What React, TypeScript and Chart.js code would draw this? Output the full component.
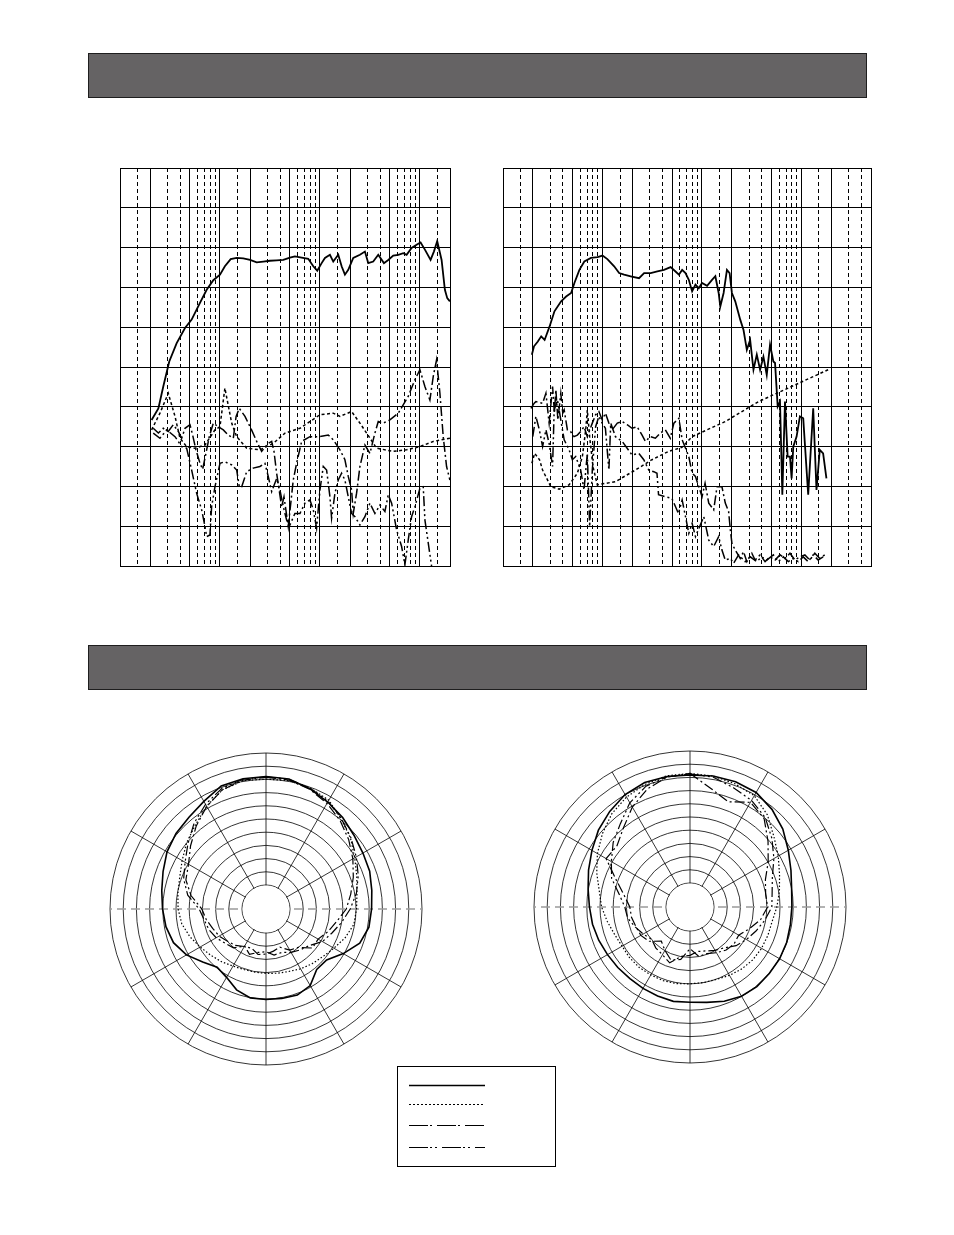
import React, { useEffect, useRef } from "react";
import { Chart, registerables } from "chart.js";

Chart.register(...registerables);

// ---------------- Frequency response: left chart (10 Hz – 20 kHz) ----------------
const L_TICKS = [10, 15, 20, 30, 40, 50, 60, 70, 80, 90, 100, 150, 200, 300, 400, 500, 600, 700, 800, 900, 1000, 1500, 2000, 3000, 4000, 5000, 6000, 7000, 8000, 9000, 10000, 15000, 20000];

const L_SOLID_F = [20.7, 24.2, 27.1, 31.1, 36.9, 44.7, 52.1, 63.1, 73.6, 85.8, 100, 112, 128, 147, 171, 200, 233, 271, 316, 369, 430, 501, 562, 656, 764, 858, 940, 1040, 1122, 1259, 1359, 1525, 1648, 1778, 1920, 2154, 2512, 2818, 3042, 3414, 3831, 4365, 4823, 5412, 6072, 6813, 7362, 8254, 9261, 10160, 11220, 12790, 13800, 14900, 16480, 17780, 18770, 19950];
const L_SOLID_V = [36.7, 39.6, 45.1, 51.4, 56.0, 59.8, 61.9, 66.1, 69.4, 71.8, 73.2, 75.3, 77.1, 77.4, 77.3, 76.9, 76.3, 76.5, 76.7, 76.8, 76.9, 77.5, 77.8, 77.5, 77.2, 75.3, 74.2, 76.1, 77.4, 78.2, 76.5, 78.2, 75.3, 73.2, 74.4, 77.4, 78.2, 79.0, 76.1, 76.5, 78.2, 76.1, 76.9, 78.0, 78.2, 78.6, 78.2, 79.9, 80.7, 81.3, 79.5, 76.9, 79.0, 81.6, 76.9, 69.4, 67.3, 66.5];

const L_DOT_F = [20.7, 25.1, 30.4, 35.5, 39.8, 46.4, 56.2, 70.8, 89.1, 100, 112, 131, 147, 185, 251, 341, 447, 631, 1000, 1359, 1585, 2074, 2512, 2929, 3688, 5412, 7356, 10000, 13590, 19950];
const L_DOT_V = [34.2, 38.4, 43.4, 37.6, 32.1, 30.0, 29.6, 30.4, 34.2, 35.0, 44.7, 35.9, 32.5, 29.6, 29.2, 30.8, 33.4, 34.6, 38.0, 38.4, 37.6, 38.8, 35.9, 33.4, 29.6, 28.8, 29.2, 30.0, 31.3, 32.1];

const L_DD_F = [21.5, 24.2, 27.1, 30.4, 34.1, 38.3, 41.4, 44.7, 50.1, 53.3, 57.5, 63.1, 67.1, 72.4, 78.2, 85.8, 96.2, 108, 121, 136, 145, 156, 178, 207, 233, 261, 304, 329, 347, 369, 414, 437, 482, 541, 584, 656, 794, 1000, 1212, 1359, 1585, 1778, 1920, 2074, 2154, 2326, 2512, 2818, 3162, 3548, 3831, 4299, 5012, 6072, 7640, 8913, 10000, 11220, 12590, 13590, 14680, 15850, 17110, 18480, 19950];
const L_DD_V = [34.6, 33.4, 34.6, 33.8, 35.5, 33.8, 32.1, 34.6, 35.5, 32.9, 29.2, 25.8, 24.3, 28.3, 32.5, 35.9, 35.0, 34.2, 32.9, 32.1, 37.6, 39.6, 37.6, 34.2, 31.3, 28.8, 30.8, 31.3, 28.8, 23.3, 14.9, 17.4, 9.9, 21.6, 25.8, 31.3, 32.5, 32.5, 32.9, 31.7, 29.2, 26.7, 22.5, 19.1, 13.2, 18.3, 25.0, 30.4, 28.3, 33.4, 36.3, 35.9, 36.7, 38.4, 42.6, 46.8, 49.3, 45.1, 41.7, 47.6, 51.8, 43.4, 32.5, 25.0, 21.6];

const L_DDD_F = [21.5, 25.1, 29.3, 35.5, 41.4, 46.4, 52.1, 58.4, 65.6, 70.8, 73.6, 79.4, 82.5, 89.1, 100, 112, 131, 147, 156, 165, 185, 215, 251, 282, 304, 329, 369, 398, 430, 464, 501, 562, 631, 708, 794, 858, 926, 1000, 1080, 1166, 1259, 1308, 1413, 1525, 1647, 1778, 1920, 2074, 2239, 2512, 2818, 3162, 3548, 3981, 4467, 4823, 5212, 5843, 6561, 7079, 7640, 8254, 8913, 10000, 10800, 11220, 13080, 13800];
const L_DDD_V = [33.4, 32.1, 34.2, 32.5, 30.0, 29.6, 24.1, 18.3, 14.1, 9.9, 7.4, 7.8, 14.9, 19.9, 25.8, 26.2, 25.4, 24.1, 19.9, 19.9, 23.7, 24.6, 25.0, 25.8, 22.5, 18.7, 22.0, 19.1, 14.9, 11.6, 10.3, 13.2, 13.2, 15.8, 16.6, 14.1, 9.5, 19.1, 25.0, 24.1, 17.4, 12.0, 18.3, 21.6, 23.3, 21.6, 17.4, 13.2, 12.4, 10.3, 12.4, 15.8, 13.2, 15.3, 13.7, 17.9, 15.8, 9.1, 4.9, 0.3, 6.5, 12.4, 14.9, 19.5, 19.9, 11.6, 0, -4];

// ---------------- Frequency response: right chart (10 Hz – 50 kHz) ----------------
const R_TICKS = [10, 15, 20, 30, 40, 50, 60, 70, 80, 90, 100, 150, 200, 300, 400, 500, 600, 700, 800, 900, 1000, 1500, 2000, 3000, 4000, 5000, 6000, 7000, 8000, 9000, 10000, 15000, 20000, 30000, 40000, 50000];

const R_SOLID_F = [19.5, 20.5, 22.4, 24.2, 26.2, 29.4, 32.9, 38.4, 43.1, 48.4, 52.2, 58.6, 65.7, 76.6, 89.3, 100, 112, 131, 147, 165, 192, 233, 262, 305, 356, 415, 484, 542, 586, 632, 683, 737, 796, 860, 928, 1002, 1125, 1262, 1363, 1471, 1528, 1650, 1782, 1896, 2000, 2160, 2424, 2616, 2825, 3050, 3293, 3556, 3839, 4147, 4478, 4834, 5220, 5425, 5768, 6086, 6422, 6830, 7262, 7663, 7962, 8272, 8934, 9646, 10416, 11686, 13122, 14158, 15284, 16508, 17826];
const R_SOLID_V = [53.1, 55.2, 56.4, 57.7, 56.8, 60.2, 64.0, 66.5, 67.7, 68.6, 71.1, 74.4, 76.5, 77.4, 77.6, 78.0, 77.1, 75.3, 73.6, 73.2, 72.8, 72.3, 73.6, 73.6, 74.0, 74.4, 75.1, 74.0, 73.2, 74.4, 73.6, 71.9, 69.0, 70.7, 69.8, 71.1, 70.4, 71.9, 72.8, 68.6, 65.2, 68.6, 74.4, 73.6, 68.6, 66.5, 61.9, 59.3, 54.3, 56.8, 49.3, 53.1, 49.3, 52.6, 48.0, 55.6, 51.4, 51.0, 40.1, 41.3, 17.9, 41.3, 27.5, 27.5, 22.0, 30.0, 32.5, 37.6, 37.1, 17.9, 39.6, 19.1, 29.2, 28.3, 22.0];

const R_DOT_F = [19.5, 20.8, 23.3, 25.0, 30.3, 36.7, 46.2, 55.9, 62.8, 67.8, 70.4, 74.3, 80.2, 88.7, 135, 214, 314, 462, 628, 796, 1715, 3696, 7962, 18520];
const R_DOT_V = [25.8, 28.3, 26.7, 24.1, 19.9, 19.3, 20.4, 23.3, 27.5, 34.2, 39.2, 32.5, 25.0, 20.4, 21.2, 24.1, 26.7, 28.8, 29.8, 32.5, 36.3, 41.3, 45.1, 49.3];

const R_DD_F = [19.1, 20.6, 21.4, 25.0, 27.0, 29.1, 31.5, 32.9, 34.0, 35.6, 38.1, 39.9, 41.2, 44.4, 47.8, 51.8, 55.9, 60.4, 65.2, 70.4, 79.0, 85.3, 92.0, 99.4, 107, 116, 125, 141, 158, 177, 198, 223, 250, 270, 302, 340, 381, 428, 480, 522, 564, 586, 632, 737, 796, 860, 1002, 1074, 1170, 1312, 1416, 1588, 1715, 1852, 1928, 2000, 2160, 2424, 2616, 2825, 3170, 3422, 3839, 4308, 4834, 5425, 6086, 6830, 7663, 8599, 9646, 10823, 12144, 13626, 15284, 17154];
const R_DD_V = [39.6, 40.9, 41.3, 40.9, 43.4, 35.9, 45.1, 38.4, 44.3, 36.7, 43.4, 38.4, 39.2, 34.2, 33.8, 32.5, 32.9, 33.8, 35.0, 32.5, 35.9, 38.0, 38.8, 36.7, 38.4, 35.9, 34.2, 35.9, 36.3, 35.5, 34.6, 35.0, 32.9, 31.3, 32.5, 32.1, 33.4, 34.2, 32.1, 35.9, 36.7, 37.1, 31.7, 27.5, 23.3, 22.5, 17.4, 20.8, 15.8, 14.1, 19.9, 19.9, 15.8, 13.7, 9.1, 5.7, 4.0, 1.9, 3.6, 1.1, 3.2, 1.5, 2.8, 1.1, 2.3, 1.5, 2.8, 1.9, 3.2, 1.5, 2.3, 2.8, 1.5, 3.2, 1.9, 2.8];

const R_DDD_F = [19.9, 21.4, 23.2, 25.0, 27.0, 29.1, 31.5, 32.7, 35.3, 38.1, 41.2, 46.2, 49.8, 53.8, 60.4, 65.2, 70.4, 74.3, 79.0, 85.3, 92.0, 99.4, 107, 116, 121, 135, 158, 177, 198, 232, 260, 292, 328, 353, 366, 428, 498, 580, 632, 683, 737, 796, 860, 1043, 1170, 1312, 1471, 1588, 1715, 1928, 2080, 2332, 2718, 3050, 3556, 3990, 4478, 5220, 5862, 6572, 7376, 8272, 9283, 10416, 11686, 13122, 14712, 16508];
const R_DDD_V = [32.5, 37.6, 34.2, 30.0, 34.2, 30.8, 25.0, 39.2, 41.7, 36.7, 31.7, 29.2, 26.7, 27.5, 24.1, 19.1, 28.3, 9.9, 24.1, 35.0, 37.6, 35.9, 34.6, 24.1, 35.9, 32.5, 31.3, 29.6, 27.9, 28.3, 26.7, 24.1, 23.7, 23.3, 17.9, 17.4, 17.0, 13.2, 16.6, 12.4, 8.2, 10.7, 7.4, 12.4, 6.5, 4.9, 7.4, 4.0, 1.5, 1.9, 0.7, 2.8, 1.1, 2.3, 1.1, 2.3, 1.5, 2.8, 1.1, 2.3, 1.1, 1.9, 1.1, 2.3, 1.1, 2.8, 1.5, 2.3];

// ---------------- Polar patterns (level re. outer ring, dB; angle clockwise from 0°) ----------------
const ANGLES = Array.from({ length: 36 }, (_, i) => `${i * 10}°`);
const RING_TICKS = [-50, -45, -40, -35, -30, -25, -20, -15, -10, -5, 0];
const POLAR_MIN = -59.1;

const PL_SOLID = [-8.9, -9.1, -10.6, -12.3, -13.9, -15.6, -16.7, -17.3, -18.4, -19.1, -19.5, -21.3, -25.3, -29.1, -29.2, -25.6, -24.4, -24.7, -24.8, -24.9, -26.5, -29.2, -30.3, -27.8, -24.3, -21.8, -20.6, -19.9, -19.0, -17.6, -15.8, -14.6, -13.7, -12.0, -9.5, -9.0];
const PL_DOT = [-9.9, -9.7, -10.3, -11.5, -14.7, -17.3, -20.3, -22.5, -24.1, -24.8, -25.3, -27.2, -29.4, -31.0, -32.0, -32.9, -33.9, -34.4, -34.7, -34.8, -34.7, -34.1, -33.0, -31.8, -30.3, -28.4, -26.7, -25.8, -25.2, -24.3, -22.4, -19.9, -17.5, -14.1, -11.0, -9.7];
const PL_DD = [-9.2, -9.5, -10.8, -12.9, -15.4, -18.2, -21.1, -23.9, -26.5, -28.7, -31.9, -34.1, -36.3, -36.1, -40.1, -41.1, -43.7, -42.9, -42.0, -41.6, -43.3, -42.7, -41.1, -40.1, -38.6, -37.6, -36.1, -34.8, -30.3, -26.8, -25.2, -21.8, -18.0, -14.2, -11.0, -9.5];
const PL_DDD = [-9.0, -9.2, -10.4, -12.0, -14.6, -17.1, -19.6, -21.9, -24.3, -27.2, -30.0, -32.5, -34.4, -37.6, -38.9, -40.1, -41.6, -41.4, -42.9, -42.4, -40.8, -42.9, -39.9, -38.9, -37.3, -36.1, -35.3, -33.8, -29.0, -25.9, -23.7, -20.5, -16.7, -13.3, -10.4, -9.2];

const PR_SOLID = [-9.1, -8.7, -8.6, -9.0, -10.8, -13.2, -16.1, -18.4, -20.0, -20.5, -20.5, -20.1, -19.9, -19.9, -19.7, -20.1, -21.1, -22.4, -23.0, -22.8, -23.2, -23.5, -23.7, -23.4, -23.0, -22.3, -21.6, -21.0, -19.9, -18.2, -16.2, -13.8, -11.8, -9.9, -8.9, -8.9];
const PR_DOT = [-8.5, -8.7, -9.4, -10.4, -13.5, -17.6, -20.5, -23.0, -24.7, -26.2, -27.5, -27.7, -27.8, -28.0, -28.5, -29.2, -29.9, -30.0, -30.0, -29.6, -29.4, -29.4, -29.2, -29.2, -29.4, -28.7, -27.3, -25.6, -24.2, -21.5, -18.6, -15.8, -13.0, -11.0, -9.6, -8.6];
const PR_DD = [-8.5, -13.5, -16.7, -13.3, -15.4, -20.5, -24.9, -28.7, -30.0, -29.7, -31.9, -35.1, -37.8, -37.3, -37.8, -39.1, -40.3, -40.1, -43.3, -38.9, -37.8, -40.1, -42.2, -38.9, -37.6, -37.3, -36.6, -36.3, -33.8, -29.4, -22.4, -23.0, -19.9, -15.4, -11.6, -9.1];
const PR_DDD = [-8.7, -9.1, -11.0, -12.5, -14.8, -18.6, -22.4, -25.9, -27.5, -28.1, -30.3, -32.5, -34.4, -36.3, -38.9, -40.1, -41.4, -42.0, -40.8, -40.1, -36.6, -38.2, -38.9, -40.1, -38.6, -37.0, -35.1, -34.4, -31.9, -27.5, -24.7, -21.1, -18.0, -13.5, -10.4, -9.0];

// ---------------- Styles ----------------
const LINE_STYLES = {
  solid: { borderDash: [] as number[], borderWidth: 1.8 },
  dotted: { borderDash: [3, 2.5], borderWidth: 1.5 },
  dashDot: { borderDash: [10, 3, 2, 3], borderWidth: 1.5 },
  dashDotDot: { borderDash: [10, 3, 2, 3, 2, 3], borderWidth: 1.5 },
};

function isMajor(v: number) {
  const s = String(v);
  return (s[0] === "1" || s[0] === "2" || s[0] === "5") && /^0*$/.test(s.slice(1));
}

function zip(f: number[], v: number[]) {
  return f.map((x, i) => ({ x, y: v[i] }));
}

type Series = { f: number[]; v: number[]; style: keyof typeof LINE_STYLES };

function FreqChart(props: { left: number; top: number; width: number; height: number; xMax: number; ticks: number[]; series: Series[] }) {
  const ref = useRef<HTMLCanvasElement>(null);
  useEffect(() => {
    const { ticks, xMax, series } = props;
    const majors = ticks.filter(isMajor);
    const minors = ticks.filter((t) => !isMajor(t));
    const chart = new Chart(ref.current!, {
      type: "line",
      data: {
        datasets: series.map((s) => ({
          data: zip(s.f, s.v),
          xAxisID: "x",
          borderColor: "#000",
          backgroundColor: "#000",
          borderWidth: LINE_STYLES[s.style].borderWidth,
          borderDash: LINE_STYLES[s.style].borderDash,
          pointRadius: 0,
          tension: 0,
          fill: false,
        })),
      },
      options: {
        animation: false,
        responsive: false,
        events: [],
        layout: { padding: 3 },
        plugins: { legend: { display: false }, tooltip: { enabled: false } },
        scales: {
          xMinor: {
            type: "logarithmic",
            position: "bottom",
            min: 10,
            max: xMax,
            afterBuildTicks: (sc: any) => {
              sc.ticks = minors.map((value) => ({ value }));
            },
            ticks: { display: false },
            grid: { color: "#000", lineWidth: 1, drawTicks: false, borderDash: [4, 3] },
            border: { display: false, dash: [4, 3] },
          },
          x: {
            type: "logarithmic",
            position: "bottom",
            min: 10,
            max: xMax,
            afterBuildTicks: (sc: any) => {
              sc.ticks = majors.map((value) => ({ value }));
            },
            ticks: { display: false },
            grid: { color: "#000", lineWidth: 1, drawTicks: false },
            border: { display: true, color: "#000", width: 1 },
          },
          y: {
            type: "linear",
            min: 0,
            max: 100,
            ticks: { display: false, stepSize: 10 },
            grid: { color: "#000", lineWidth: 1, drawTicks: false },
            border: { display: true, color: "#000", width: 1 },
          },
        },
      } as any,
    });
    return () => chart.destroy();
  }, []);
  return (
    <canvas
      ref={ref}
      width={props.width}
      height={props.height}
      style={{ position: "absolute", left: props.left, top: props.top, width: props.width, height: props.height }}
    />
  );
}

const innerDisc = {
  id: "innerDisc",
  beforeDatasetsDraw(chart: any) {
    const s = chart.scales.r;
    const ctx = chart.ctx;
    const rad = s.getDistanceFromCenterForValue(RING_TICKS[0]);
    ctx.save();
    ctx.beginPath();
    ctx.arc(s.xCenter, s.yCenter, rad - 0.6, 0, Math.PI * 2);
    ctx.fillStyle = "#fff";
    ctx.fill();
    ctx.restore();
  },
};

type PolarSeries = { v: number[]; style: keyof typeof LINE_STYLES };

function PolarChart(props: { left: number; top: number; size: number; series: PolarSeries[] }) {
  const ref = useRef<HTMLCanvasElement>(null);
  useEffect(() => {
    const chart = new Chart(ref.current!, {
      type: "radar",
      data: {
        labels: ANGLES,
        datasets: props.series.map((s) => ({
          data: s.v,
          borderColor: "#000",
          backgroundColor: "transparent",
          borderWidth: s.style === "solid" ? 1.6 : 1.2,
          borderDash: s.style === "dotted" ? [1.5, 2] : LINE_STYLES[s.style].borderDash,
          pointRadius: 0,
          tension: 0,
          fill: false,
        })),
      },
      options: {
        animation: false,
        responsive: false,
        events: [],
        layout: { padding: 4 },
        plugins: { legend: { display: false }, tooltip: { enabled: false } },
        scales: {
          r: {
            min: POLAR_MIN,
            max: 0,
            afterBuildTicks: (sc: any) => {
              sc.ticks = [POLAR_MIN, ...RING_TICKS].map((value) => ({ value }));
            },
            ticks: { display: false },
            pointLabels: { display: false },
            grid: { circular: true, color: "#000", lineWidth: 0.8 },
            angleLines: {
              display: true,
              color: (ctx: any) => (ctx.index === 9 || ctx.index === 27 ? "#9a9a9a" : "#000"),
              lineWidth: (ctx: any) => (ctx.index % 3 === 0 ? (ctx.index === 9 || ctx.index === 27 ? 1.3 : 0.8) : 0),
              borderDash: (ctx: any) => (ctx.index === 9 || ctx.index === 27 ? [9, 5] : []),
            },
          },
        },
      } as any,
      plugins: [innerDisc],
    });
    return () => chart.destroy();
  }, []);
  return (
    <canvas
      ref={ref}
      width={props.size}
      height={props.size}
      style={{ position: "absolute", left: props.left, top: props.top, width: props.size, height: props.size }}
    />
  );
}

function HeaderBar({ top }: { top: number }) {
  return (
    <div
      style={{
        position: "absolute",
        left: 88,
        top,
        width: 779,
        height: 45,
        background: "#656364",
        border: "1.5px solid #1e1e1e",
        boxSizing: "border-box",
      }}
    />
  );
}

const LEGEND_DASHES = ["", "2 2", "19 2 2 5", "19 2 2 3 2 5"];
const LEGEND_ROWS = [18, 37, 58, 80];

function LegendBox() {
  return (
    <div
      style={{
        position: "absolute",
        left: 397,
        top: 1066,
        width: 159,
        height: 101,
        border: "1.2px solid #000",
        boxSizing: "border-box",
      }}
    >
      <svg width={157} height={99} style={{ position: "absolute", left: 0, top: 0 }}>
        {LEGEND_DASHES.map((d, i) => (
          <line
            key={i}
            x1={11}
            x2={87}
            y1={LEGEND_ROWS[i] + 0.5}
            y2={LEGEND_ROWS[i] + 0.5}
            stroke="#000"
            strokeWidth={i === 0 ? 1.4 : 1.2}
            strokeDasharray={d || undefined}
          />
        ))}
      </svg>
    </div>
  );
}

export default function App() {
  const leftSeries: Series[] = [
    { f: L_SOLID_F, v: L_SOLID_V, style: "solid" },
    { f: L_DOT_F, v: L_DOT_V, style: "dotted" },
    { f: L_DD_F, v: L_DD_V, style: "dashDot" },
    { f: L_DDD_F, v: L_DDD_V, style: "dashDotDot" },
  ];
  const rightSeries: Series[] = [
    { f: R_SOLID_F, v: R_SOLID_V, style: "solid" },
    { f: R_DOT_F, v: R_DOT_V, style: "dotted" },
    { f: R_DD_F, v: R_DD_V, style: "dashDot" },
    { f: R_DDD_F, v: R_DDD_V, style: "dashDotDot" },
  ];
  const polarLeft: PolarSeries[] = [
    { v: PL_SOLID, style: "solid" },
    { v: PL_DOT, style: "dotted" },
    { v: PL_DD, style: "dashDot" },
    { v: PL_DDD, style: "dashDotDot" },
  ];
  const polarRight: PolarSeries[] = [
    { v: PR_SOLID, style: "solid" },
    { v: PR_DOT, style: "dotted" },
    { v: PR_DD, style: "dashDot" },
    { v: PR_DDD, style: "dashDotDot" },
  ];
  return (
    <div style={{ position: "absolute", left: 0, top: 0, width: 954, height: 1235, background: "#fff", overflow: "hidden" }}>
      <HeaderBar top={53} />
      <FreqChart left={117} top={165} width={336} height={404} xMax={20000} ticks={L_TICKS} series={leftSeries} />
      <FreqChart left={500} top={165} width={374} height={404} xMax={50000} ticks={R_TICKS} series={rightSeries} />
      <HeaderBar top={645} />
      <PolarChart left={106} top={749} size={320} series={polarLeft} />
      <PolarChart left={530} top={747} size={320} series={polarRight} />
      <LegendBox />
    </div>
  );
}
